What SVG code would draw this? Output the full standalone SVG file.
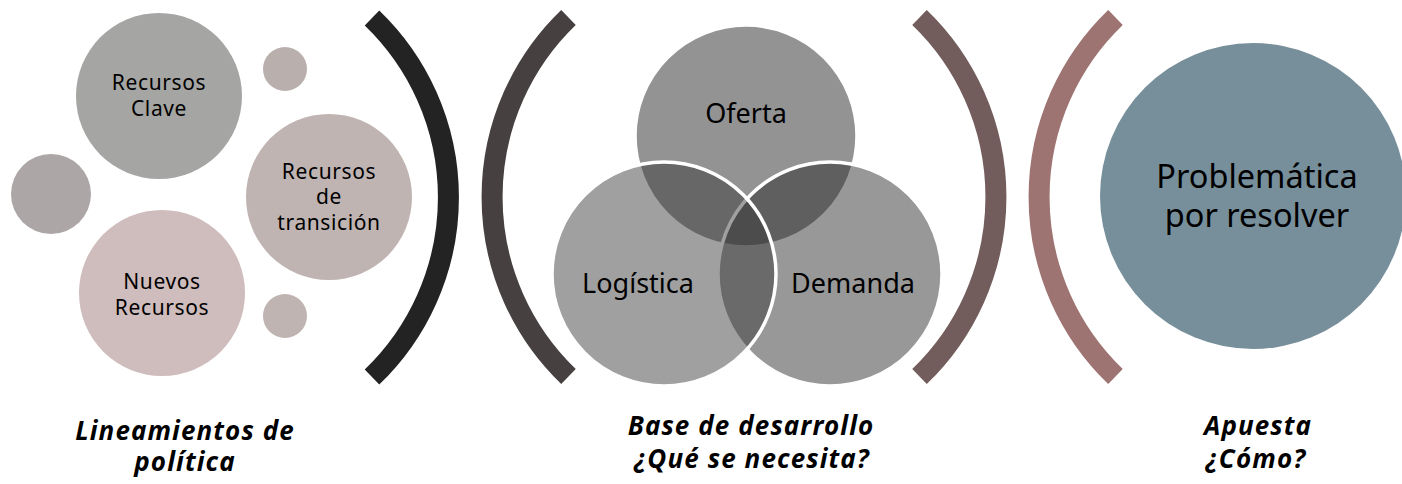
<svg xmlns="http://www.w3.org/2000/svg" width="1402" height="484" viewBox="0 0 1402 484">
<style>
  .t { font-family: "Noto Sans", "Open Sans", "DejaVu Sans", sans-serif; fill: #000; text-anchor: middle; }
  .s { font-size: 21px; letter-spacing: 0.6px; }
  .v { font-size: 27px; }
  .p { font-size: 32.5px; }
  .cap { font-size: 26px; font-weight: bold; font-style: italic; letter-spacing: 1.1px; }
  .br { fill: none; stroke-width: 21; stroke-linecap: butt; }
  .venn { stroke: #ffffff; stroke-width: 3.5; }
</style>
<rect width="1402" height="484" fill="#ffffff"/>

<g id="separators">
  <path class="br" stroke="#232323" d="M 372 18 A 249 249 0 0 1 372 377"/>
  <path class="br" stroke="#474040" d="M 568.5 17.5 A 249 249 0 0 0 568.5 376.5"/>
  <path class="br" stroke="#735d5c" d="M 919.5 17.5 A 249 249 0 0 1 919.5 376.5"/>
  <path class="br" stroke="#9e7472" d="M 1115.5 17.5 A 249 249 0 0 0 1115.5 376.5"/>
</g>

<g id="deco-top-small"><circle cx="285" cy="69" r="22" fill="#b9afad"/></g>
<g id="deco-left"><circle cx="51" cy="194" r="40" fill="#aca6a6"/></g>
<g id="deco-bottom-small"><circle cx="285" cy="316" r="22" fill="#c0b4b3"/></g>

<g id="recursos-clave">
  <circle cx="159" cy="96" r="83" fill="#a5a5a3"/>
  <text class="t s" x="159" y="90">Recursos</text>
  <text class="t s" x="159" y="116">Clave</text>
</g>
<g id="recursos-transicion">
  <circle cx="329" cy="197" r="83" fill="#bfb4b2"/>
  <text class="t s" x="329" y="179">Recursos</text>
  <text class="t s" x="329" y="204">de</text>
  <text class="t s" x="329" y="230">transición</text>
</g>
<g id="nuevos-recursos">
  <circle cx="162" cy="293" r="83" fill="#cfbcbc"/>
  <text class="t s" x="162" y="289">Nuevos</text>
  <text class="t s" x="162" y="315">Recursos</text>
</g>

<g id="oferta">
  <circle class="venn" cx="746" cy="136" r="111" fill="#272727" fill-opacity="0.5"/>
</g>
<g id="demanda">
  <circle class="venn" cx="830" cy="274" r="112" fill="#252525" fill-opacity="0.472"/>
</g>
<g id="logistica">
  <circle class="venn" cx="664" cy="274" r="112" fill="#393939" fill-opacity="0.48"/>
</g>
<g id="venn-labels">
  <text class="t v" x="746" y="123">Oferta</text>
  <text class="t v" x="638" y="293">Logística</text>
  <text class="t v" x="853" y="293">Demanda</text>
</g>

<g id="problematica">
  <circle cx="1253" cy="196" r="153" fill="#778f9b"/>
  <text class="t p" x="1257" y="188">Problemática</text>
  <text class="t p" x="1257" y="227">por resolver</text>
</g>

<g id="captions">
  <text class="t cap" x="185" y="440">Lineamientos de</text>
  <text class="t cap" x="185" y="471">política</text>
  <text class="t cap" x="751" y="435">Base de desarrollo</text>
  <text class="t cap" x="752" y="468">¿Qué se necesita?</text>
  <text class="t cap" x="1258" y="435">Apuesta</text>
  <text class="t cap" x="1256" y="468">¿Cómo?</text>
</g>
</svg>
